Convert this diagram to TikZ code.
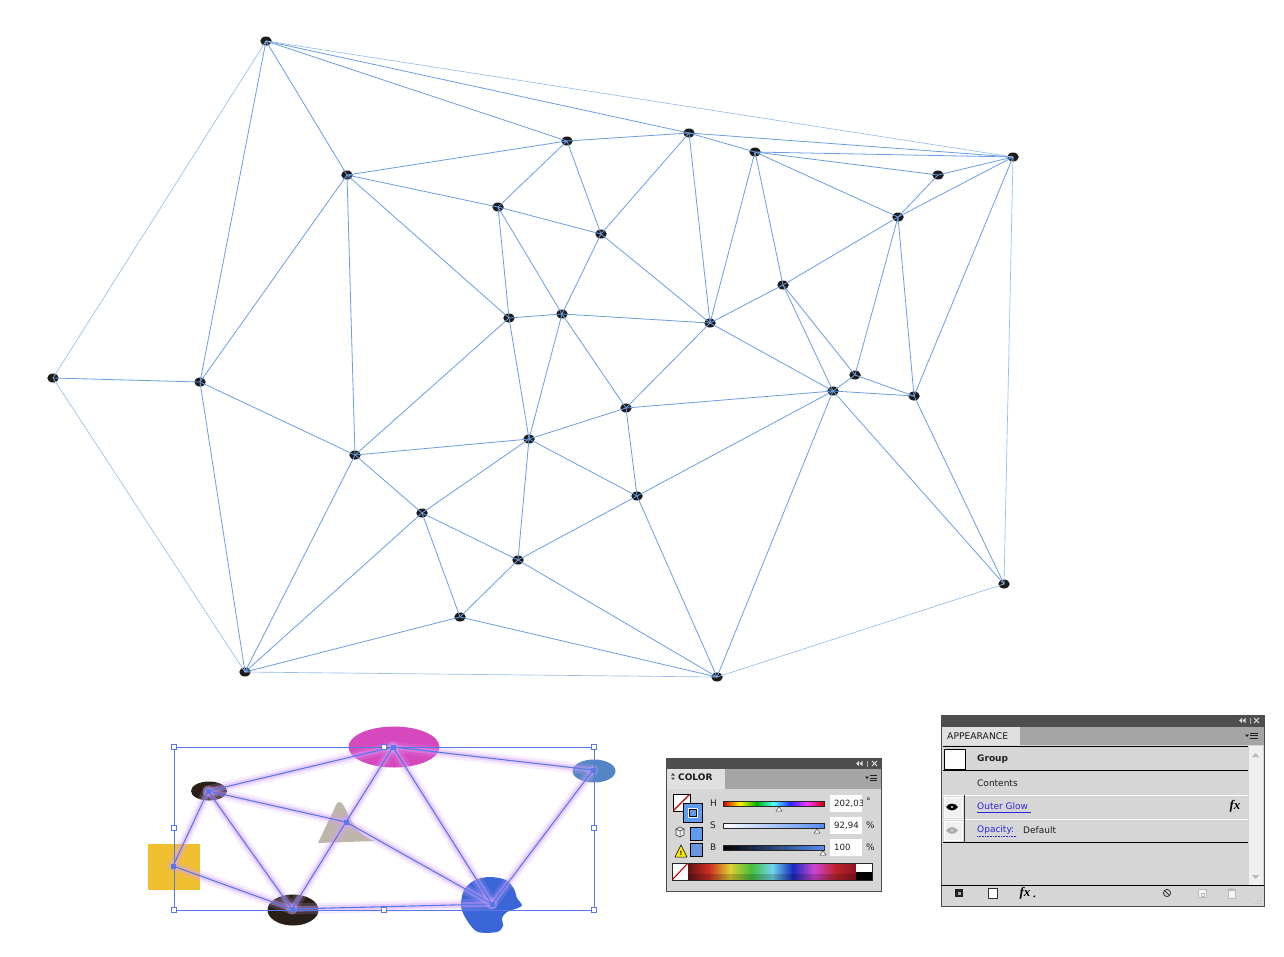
\documentclass[tikz,border=0pt]{standalone}
\usepackage{fontspec}
\setmainfont{DejaVu Sans}
\newfontfamily\fxfont{Liberation Serif}
\usetikzlibrary{shapes.geometric}
\definecolor{edgec}{RGB}{105,158,228}
\definecolor{hullc}{RGB}{150,190,236}
\definecolor{dotc}{RGB}{30,28,26}
\definecolor{pinkc}{RGB}{214,72,190}
\definecolor{darkc}{RGB}{40,32,24}
\definecolor{steelc}{RGB}{84,134,198}
\definecolor{yelc}{RGB}{240,192,48}
\definecolor{tric}{RGB}{190,182,170}
\definecolor{headc}{RGB}{58,102,216}
\definecolor{selc}{RGB}{88,120,232}
\definecolor{glowc}{RGB}{214,160,250}
\definecolor{panelc}{RGB}{214,214,214}
\definecolor{tabbar}{RGB}{165,165,165}
\definecolor{tabc}{RGB}{224,224,224}
\definecolor{titlec}{RGB}{78,78,78}
\definecolor{swblue}{RGB}{95,155,240}
\definecolor{swblue2}{RGB}{105,150,220}
\definecolor{linkc}{RGB}{40,40,225}
\definecolor{txtc}{RGB}{30,30,30}
\begin{document}
\begin{tikzpicture}[x=1pt,y=-1pt,
  dot/.style={ellipse,fill=dotc,minimum width=11.5pt,minimum height=9pt,inner sep=0pt},
  edge/.style={draw=edgec,line width=0.8pt},
  hull/.style={draw=hullc,line width=0.65pt},
  shp/.style={inner sep=0pt,draw=none},
  pnt/.style={rectangle,fill=selc,minimum size=5pt,inner sep=0pt},
  handle/.style={rectangle,fill=white,draw=selc,line width=0.6pt,minimum size=5pt,inner sep=0pt},
  glowA/.style={draw=glowc,line width=11pt,opacity=0.18,line cap=round},
  glowB/.style={draw=glowc,line width=5.5pt,opacity=0.4,line cap=round},
  gline/.style={draw=selc,line width=1.1pt},
  lbl/.style={inner sep=0pt,anchor=west,text=txtc,font=\fontsize{9}{10}\selectfont},
  lnk/.style={lbl,text=linkc},
]
\useasboundingbox[fill=white] (0,0) rectangle (1284,956);

% ---------------- big graph ----------------
\node[dot] (A) at (266,41) {};
\node[dot] (B) at (567,141) {};
\node[dot] (C) at (689,133) {};
\node[dot] (D) at (755,152) {};
\node[dot] (E) at (1013,157) {};
\node[dot] (F) at (938,175) {};
\node[dot] (G) at (347,175) {};
\node[dot] (H) at (498,207) {};
\node[dot] (I) at (601,234) {};
\node[dot] (J) at (898,217) {};
\node[dot] (K) at (783,285) {};
\node[dot] (L) at (509,318) {};
\node[dot] (M) at (562,314) {};
\node[dot] (N) at (710,323) {};
\node[dot] (O) at (53,378) {};
\node[dot] (P) at (200,382) {};
\node[dot] (Q) at (855,375) {};
\node[dot] (R) at (833,391) {};
\node[dot] (S) at (914,396) {};
\node[dot] (T) at (626,408) {};
\node[dot] (U) at (529,439) {};
\node[dot] (V) at (355,455) {};
\node[dot] (W) at (637,496) {};
\node[dot] (X) at (422,513) {};
\node[dot] (Y) at (518,560) {};
\node[dot] (Z) at (460,617) {};
\node[dot] (AA) at (1004,584) {};
\node[dot] (AB) at (245,672) {};
\node[dot] (AC) at (717,677) {};

\foreach \a/\b in {A/P,A/G,A/B,A/C,B/C,B/G,B/H,B/I,C/D,C/E,C/I,C/N,
  D/E,D/F,D/J,D/K,D/N,E/F,E/J,E/S,F/J,G/H,G/L,G/P,G/V,H/I,H/L,H/M,
  I/M,I/N,J/K,J/Q,J/S,K/N,K/Q,K/R,L/M,L/V,L/U,M/N,M/U,M/T,N/T,N/R,
  O/P,P/V,P/AB,Q/R,Q/S,R/S,R/T,R/W,R/AC,R/AA,S/AA,T/U,T/W,
  U/V,U/X,U/W,U/Y,V/X,V/AB,W/Y,W/AC,X/AB,X/Y,X/Z,Y/Z,Y/AC,Z/AB,Z/AC}
  \draw[edge] (\a.center) -- (\b.center);
\foreach \a/\b in {A/O,A/E,O/AB,AB/AC,AC/AA,E/AA}
  \draw[hull] (\a.center) -- (\b.center);

% ---------------- glowing group ----------------
\node[shp,ellipse,fill=pinkc,minimum width=91pt,minimum height=41pt] (pink) at (394,747) {};
\node[shp,ellipse,fill=darkc,minimum width=36pt,minimum height=19pt] (dk1) at (209,791) {};
\node[shp,ellipse,fill=steelc,minimum width=43pt,minimum height=23pt] (bl) at (594,771) {};
\node[shp,rectangle,fill=yelc,minimum width=52pt,minimum height=46pt] (sq) at (174,867) {};
\node[shp,ellipse,fill=darkc,minimum width=51pt,minimum height=31pt] (dk2) at (293,910) {};
\fill[tric] (318,843) -- (337,803) .. controls (341,800) and (343,804) .. (346,810)
  .. controls (352,824) and (360,836) .. (375,841) -- cycle;
\fill[headc] plot[smooth cycle] coordinates {(490,877) (506,880) (514,889) (517,898)
  (522,905) (518,908) (507,912) (502,918) (503,926) (497,932) (478,932) (468,922)
  (461,907) (464,890) (475,880)};

\node[pnt] (p1) at (393,747) {};
\node[pnt] (p2) at (208,791) {};
\node[pnt] (p3) at (346,822) {};
\node[pnt] (p4) at (173,866) {};
\node[pnt] (p5) at (292,909) {};
\node[pnt] (p6) at (492,904) {};
\node[pnt] (p7) at (593,770) {};

\foreach \a/\b in {p1/p2,p1/p7,p1/p3,p3/p5,p1/p6,p2/p3,p3/p6,p2/p4,p2/p5,p4/p5,p5/p6,p6/p7}
  {\draw[glowA] (\a.center) -- (\b.center);
   \draw[glowB] (\a.center) -- (\b.center);}
\foreach \a/\b in {p1/p2,p1/p7,p1/p3,p3/p5,p1/p6,p2/p3,p3/p6,p2/p4,p2/p5,p4/p5,p5/p6,p6/p7}
  \draw[gline] (\a.center) -- (\b.center);

\draw[selc,line width=0.7pt] (174,747) rectangle (594,910);
\foreach \hx/\hy [count=\i] in {174/747,384/747,594/747,174/828,594/828,174/910,384/910,594/910}
  \node[handle] (h\i) at (\hx,\hy) {};
\foreach \n in {p1,p2,p3,p4,p5,p6,p7}
  \node[pnt] at (\n) {};

% ---------------- COLOR panel ----------------
\fill[panelc] (666,758) rectangle (881,891);
\fill[titlec] (666,758) rectangle (881,769);
\fill[tabbar] (666,769) rectangle (881,789);
\fill[tabc] (666,769) rectangle (725,789);
\draw[gray!60!black,line width=0.6pt] (666,758) rectangle (881,891);
\fill[gray!25] (856,763.5) -- (859,761) -- (859,766) -- cycle;
\fill[gray!25] (859.5,763.5) -- (862.5,761) -- (862.5,766) -- cycle;
\draw[gray!60,line width=0.5pt] (867,760.5) -- (867,766.5);
\draw[gray!20,line width=0.9pt] (872,761) -- (877,766) (872,766) -- (877,761);
\fill[txtc!80] (671,775.5) -- (673,773) -- (675,775.5) -- cycle;
\fill[txtc!80] (671,777.5) -- (673,780) -- (675,777.5) -- cycle;
\node[lbl,font=\fontsize{9}{10}\selectfont\bfseries,text=gray!20!black] (ctab) at (678,777.5) {COLOR};
\fill[txtc] (865,776.5) -- (869,776.5) -- (867,779) -- cycle;
\draw[txtc,line width=0.6pt] (870,775.5) -- (877,775.5) (870,778) -- (877,778) (870,780.5) -- (877,780.5);
\fill[white] (673,794) rectangle (690,811);
\draw[black,line width=0.5pt] (673,794) rectangle (690,811);
\draw[red!75!black,line width=1.1pt] (673.5,810.5) -- (689.5,794.5);
\fill[swblue] (683,803) rectangle (702,822);
\draw[black,line width=0.6pt] (683,803) rectangle (702,822);
\draw[white,line width=2pt] (688.5,808.5) rectangle (696.5,816.5);
\draw[black,line width=0.8pt] (689,809) rectangle (696,816);
\draw[gray!40!black,line width=0.6pt,fill=gray!15] (676,829) -- (680,827) -- (684,829) -- (684,835) -- (680,837) -- (676,835) -- cycle;
\draw[gray!40!black,line width=0.5pt] (676,829) -- (680,831) -- (684,829) (680,831) -- (680,837);
\fill[swblue] (690,827) rectangle (702,840);
\draw[black,line width=0.5pt] (690,827) rectangle (702,840);
\draw[black,line width=0.5pt,fill=yellow!90!orange] (675,857) -- (681,845) -- (687,857) -- cycle;
\node[inner sep=0pt,font=\fontsize{6}{6}\selectfont\bfseries] (warn) at (681,853) {!};
\fill[swblue2] (690,843) rectangle (702,856);
\draw[black,line width=0.5pt] (690,843) rectangle (702,856);
% H slider
\node[lbl] (hl) at (710,803.5) {H};
\foreach \i/\c/\d in {0/red!80!black/yellow!90!orange,1/yellow!90!orange/green!70!black,2/green!70!black/cyan!70,3/cyan!70/blue!85,4/blue!85/magenta!80,5/magenta!80/red!80!black}
  \shade[left color=\c,right color=\d] ({723+\i*16.83},801) rectangle ({723+(\i+1)*16.83},806);
\draw[gray!30!black,line width=0.5pt] (723,801) rectangle (824,806);
\draw[gray!60!black,fill=white,line width=0.5pt] (776,811) -- (779,807) -- (782,811) -- cycle;
\fill[white] (830,795) rectangle (862,812);
\begin{scope}
\clip (830,795) rectangle (862,812);
\node[lbl,font=\fontsize{8.6}{10}\selectfont] (hv) at (834,803.5) {202,03};
\end{scope}
\node[lbl] (hu) at (866,801.5) {°};
% S slider
\node[lbl] (sl) at (710,825.5) {S};
\shade[left color=white,right color=swblue!90!blue] (723,823) rectangle (824,828);
\draw[gray!30!black,line width=0.5pt] (723,823) rectangle (824,828);
\draw[gray!60!black,fill=white,line width=0.5pt] (814,833) -- (817,829) -- (820,833) -- cycle;
\fill[white] (830,817) rectangle (862,834);
\node[lbl,font=\fontsize{8.6}{10}\selectfont] (sv) at (834,825.5) {92,94};
\node[lbl] (su) at (866,825.5) {\%};
% B slider
\node[lbl] (blab) at (710,847.5) {B};
\shade[left color=black,right color=swblue!90!blue] (723,845) rectangle (824,850);
\draw[gray!30!black,line width=0.5pt] (723,845) rectangle (824,850);
\draw[gray!60!black,fill=white,line width=0.5pt] (820,855) -- (823,851) -- (826,855) -- cycle;
\fill[white] (830,839) rectangle (862,856);
\node[lbl,font=\fontsize{8.6}{10}\selectfont] (bv) at (834,847.5) {100};
\node[lbl] (bu) at (866,847.5) {\%};
% spectrum
\fill[white] (672,863) rectangle (688,880);
\draw[red!75!black,line width=1.1pt] (672.5,879.5) -- (687.5,863.5);
\definecolor{s0}{RGB}{100,20,20}\definecolor{s1}{RGB}{205,45,35}\definecolor{s2}{RGB}{225,205,50}
\definecolor{s3}{RGB}{70,190,60}\definecolor{s4}{RGB}{110,215,235}\definecolor{s5}{RGB}{25,40,190}
\definecolor{s6}{RGB}{205,70,210}\definecolor{s7}{RGB}{190,35,45}\definecolor{s8}{RGB}{140,20,30}
\foreach \i/\c/\d in {0/s0/s1,1/s1/s2,2/s2/s3,3/s3/s4,4/s4/s5,5/s5/s6,6/s6/s7,7/s7/s8}
  \shade[left color=\c,right color=\d] ({688+\i*21},863) rectangle ({688+(\i+1)*21},880);
\fill[black,opacity=0.18] (688,874) rectangle (856,880);
\fill[white] (856,863) rectangle (872,871.5);
\fill[black] (856,871.5) rectangle (872,880);
\draw[gray!30!black,line width=0.6pt] (672,863) rectangle (872,880);

% ---------------- APPEARANCE panel ----------------
\fill[panelc] (941,715) rectangle (1264,906);
\fill[titlec] (941,715) rectangle (1264,727);
\fill[tabbar] (941,727) rectangle (1264,745);
\fill[tabc] (941,727) rectangle (1020,745);
\draw[gray!60!black,line width=0.6pt] (941,715) rectangle (1264,906);
\fill[gray!25] (1239,720.5) -- (1242,718) -- (1242,723) -- cycle;
\fill[gray!25] (1242.5,720.5) -- (1245.5,718) -- (1245.5,723) -- cycle;
\draw[gray!60,line width=0.5pt] (1250,717.5) -- (1250,723.5);
\draw[gray!20,line width=0.9pt] (1254,718) -- (1259,723) (1254,723) -- (1259,718);
\node[lbl,font=\fontsize{9.2}{10}\selectfont,text=gray!20!black] (atab) at (947,736) {APPEARANCE};
\fill[txtc] (1245,734.5) -- (1249,734.5) -- (1247,737) -- cycle;
\draw[txtc,line width=0.6pt] (1250,733) -- (1258,733) (1250,735.5) -- (1258,735.5) (1250,738) -- (1258,738);
\fill[gray!12] (1249,746) rectangle (1263,885);
\fill[gray!55] (1252,757) -- (1255.5,753) -- (1259,757) -- cycle;
\fill[gray!55] (1252,875) -- (1255.5,879) -- (1259,875) -- cycle;
\draw[black,line width=0.8pt] (943,746) -- (1248,746);
\draw[black,line width=0.8pt] (943,770) -- (1248,770);
\draw[white,line width=0.8pt] (943,795) -- (1248,795);
\draw[white,line width=0.8pt] (943,819) -- (1248,819);
\draw[black,line width=0.8pt] (943,842) -- (1248,842);
\draw[black,line width=0.8pt] (941,885) -- (1264,885);
\fill[white] (944,749) rectangle (965,769);
\draw[black,line width=0.7pt] (944,749) rectangle (965,769);
\node[lbl,font=\fontsize{9}{10}\selectfont\bfseries] (grp) at (977,759.5) {Group};
\node[lbl] (cont) at (977,783.5) {Contents};
\draw[white,line width=0.6pt,fill=gray!12] (944,797) rectangle (962,817);
\draw[white,line width=0.6pt,fill=gray!12] (944,821) rectangle (962,840);
\draw[gray!40!black,line width=0.8pt] (964,795) -- (964,842);
\fill[black] (946,807) .. controls (949,802.5) and (955,802.5) .. (958,807) .. controls (955,811.5) and (949,811.5) .. (946,807) -- cycle;
\fill[white] (952,807) circle (1.2);
\fill[gray!65] (946,830.5) .. controls (949,826) and (955,826) .. (958,830.5) .. controls (955,835) and (949,835) .. (946,830.5) -- cycle;
\fill[gray!20] (952,830.5) circle (1.2);
\node[lnk] (og) at (977,806.5) {Outer Glow};
\draw[linkc,line width=0.6pt] (977,812.5) -- (1031,812.5);
\node[inner sep=0pt,font=\fxfont\fontsize{13}{13}\selectfont\bfseries\itshape] (fx1) at (1235,806.5) {fx};
\node[lnk] (op) at (977,830.5) {Opacity:};
\draw[linkc,line width=0.8pt,dash pattern=on 0.8pt off 0.8pt] (977,836.5) -- (1017,836.5);
\node[lbl] (def) at (1023,830.5) {Default};
\fill[gray!25!black] (955,889) rectangle (963,897);
\fill[gray!65] (957.5,891.5) rectangle (960.5,894.5);
\draw[gray!40!black,fill=white,line width=0.6pt] (988,888) rectangle (997,898);
\node[inner sep=0pt,font=\fxfont\fontsize{13}{13}\selectfont\bfseries\itshape] (fx2) at (1025,893) {fx};
\fill[black] (1033,897) -- (1035,897) -- (1035,895) -- cycle;
\draw[gray!40!black,line width=0.8pt] (1167,893) circle (3.6);
\draw[gray!40!black,line width=0.8pt] (1164.5,890.5) -- (1169.5,895.5);
\draw[gray!55,line width=0.5pt,fill=gray!8] (1198,889) rectangle (1206,897);
\draw[gray!55,line width=0.5pt] (1201,893) rectangle (1204,896);
\draw[gray!55,line width=0.5pt,fill=gray!8] (1228,890) rectangle (1235,898);
\draw[gray!55,line width=0.6pt] (1227,889.5) -- (1236,889.5) (1230,888) -- (1233,888);
\foreach \gx/\gy in {1260/903,1257/903,1254/903,1260/900,1257/900,1260/897}
  \fill[gray!55] (\gx,\gy) rectangle ++(1,1);
\end{tikzpicture}
\end{document}
